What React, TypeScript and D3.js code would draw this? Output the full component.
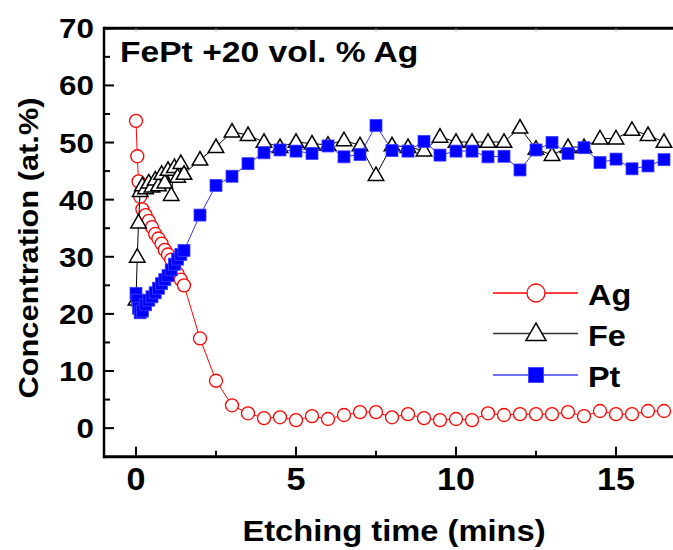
import React from "react";
import * as d3 from "d3";

const times = [0, 0.04, 0.08, 0.13, 0.2, 0.3, 0.4, 0.5, 0.6, 0.7, 0.8, 0.9, 1.0, 1.1, 1.2, 1.3, 1.4, 1.5,
  2, 2.5, 3, 3.5, 4, 4.5, 5, 5.5, 6, 6.5, 7, 7.5, 8, 8.5, 9, 9.5, 10, 10.5, 11, 11.5, 12, 12.5, 13, 13.5, 14, 14.5, 15, 15.5, 16, 16.5];

const agValues = [53.8, 47.6, 43.2, 40.5, 38.3, 37.3, 36.3, 35.2, 34.0, 33.2, 32.3, 31.2, 30.4, 29.5, 28.0, 27.0, 26.0, 25.0,
  15.7, 8.3, 4.0, 2.6, 1.75, 1.9, 1.4, 2.1, 1.6, 2.3, 2.8, 2.8, 1.9, 2.45, 1.75, 1.4, 1.6, 1.4, 2.6, 2.3, 2.45, 2.45, 2.45, 2.8, 2.1, 3.0, 2.45, 2.45, 3.0, 3.0];

const feValues = [22.5, 30.0, 36.0, 41.5, 42.5, 42.0, 43.0, 42.3, 43.5, 42.5, 44.5, 43.0, 45.2, 40.8, 45.7, 44.0, 46.4, 44.5,
  47.0, 49.2, 51.9, 51.3, 50.1, 49.2, 50.1, 49.8, 49.6, 50.4, 49.5, 44.3, 49.5, 49.2, 48.6, 51.0, 50.1, 50.1, 50.1, 50.1, 52.6, 48.9, 47.8, 49.2, 49.2, 50.7, 50.7, 52.2, 51.3, 50.1];

const ptValues = [23.6, 22.4, 21.0, 20.2, 20.5, 21.6, 22.4, 23.0, 23.7, 24.5, 25.3, 26.0, 26.7, 27.7, 28.7, 29.6, 30.4, 31.1,
  37.3, 42.5, 44.1, 46.3, 48.2, 48.7, 48.5, 48.1, 49.4, 47.5, 47.9, 53.0, 48.6, 48.5, 50.2, 47.8, 48.5, 48.5, 47.5, 47.6, 45.2, 48.7, 50.0, 48.1, 49.1, 46.5, 47.1, 45.4, 45.9, 47.0];

const xMajorTicks = [0, 5, 10, 15];
const xMinorTicks = [2.5, 7.5, 12.5];
const yMajorTicks = [0, 10, 20, 30, 40, 50, 60, 70];
const yMinorTicks = [5, 15, 25, 35, 45, 55, 65];

const W = 673;
const H = 550;
const FONT = "'Liberation Sans', Arial, Helvetica, sans-serif";

const x = d3.scaleLinear().domain([-1, 17]).range([104, 680]);
const y = d3.scaleLinear().domain([-5, 70]).range([456.7, 28.3]);

type Series = { name: string; values: number[]; color: string; lineColor: string; marker: "circle" | "triangle" | "square" };
const series: Series[] = [
  { name: "Ag", values: agValues, color: "#ff0000", lineColor: "#ff0000", marker: "circle" },
  { name: "Fe", values: feValues, color: "#000000", lineColor: "#000000", marker: "triangle" },
  { name: "Pt", values: ptValues, color: "#0000ff", lineColor: "#3030ff", marker: "square" },
];

function Marker({ kind, cx, cy, s, color }: { kind: string; cx: number; cy: number; s: number; color: string }) {
  if (kind === "circle") {
    return <circle cx={cx} cy={cy} r={s / 2} fill="#fff" stroke={color} strokeWidth={1.3} />;
  }
  if (kind === "triangle") {
    const h = s * 0.87;
    const pts = `${cx},${cy - h * 0.6} ${cx - s / 2},${cy + h * 0.4} ${cx + s / 2},${cy + h * 0.4}`;
    return <polygon points={pts} fill="#fff" stroke={color} strokeWidth={1.5} />;
  }
  return <rect x={cx - s / 2} y={cy - s / 2} width={s} height={s} fill={color} stroke="#4040ff" strokeWidth={0.8} />;
}

const markerSize: Record<string, number> = { circle: 13, triangle: 15.5, square: 12 };
const legendSize: Record<string, number> = { circle: 18, triangle: 20, square: 15 };

function SText({ x: tx, y: ty, size, anchor, children, sx = 1.1, rotate = 0 }: any) {
  return (
    <g transform={`translate(${tx},${ty}) rotate(${rotate}) scale(${sx},1)`}>
      <text x={0} y={0} fontFamily={FONT} fontWeight="bold" fontSize={size} textAnchor={anchor} fill="#000">
        {children}
      </text>
    </g>
  );
}

export default function App() {
  const line = d3
    .line<number>()
    .x((_, i) => x(times[i]))
    .y((d) => y(d));

  const legendY = [293, 333.5, 375];

  return (
    <svg width={W} height={H} style={{ position: "absolute", left: 0, top: 0, background: "#fff" }}>
      <rect x={0} y={0} width={W} height={H} fill="#fff" />

      {series.map((s) => (
        <g key={s.name}>
          <path d={line(s.values) || ""} fill="none" stroke={s.lineColor} strokeWidth={1} />
          {s.values.map((v, i) => (
            <Marker key={i} kind={s.marker} cx={x(times[i])} cy={y(v)} s={markerSize[s.marker]} color={s.color} />
          ))}
        </g>
      ))}

      <line x1={x(-1)} x2={W} y1={y(70)} y2={y(70)} stroke="#000" strokeWidth={3} />
      <line x1={x(-1) - 1} x2={W} y1={y(-5)} y2={y(-5)} stroke="#000" strokeWidth={3} />
      <line x1={x(-1)} x2={x(-1)} y1={y(70) - 1.5} y2={y(-5) + 1.5} stroke="#000" strokeWidth={2.5} />

      {xMajorTicks.map((t) => (
        <g key={"xm" + t}>
          <line x1={x(t)} x2={x(t)} y1={y(-5)} y2={y(-5) - 10} stroke="#000" strokeWidth={2} />
          <line x1={x(t)} x2={x(t)} y1={y(70)} y2={y(70) + 3} stroke="#999" strokeWidth={1} />
          <SText x={x(t)} y={490} size={31} anchor="middle" sx={1.1}>{t}</SText>
        </g>
      ))}
      {xMinorTicks.map((t) => (
        <g key={"xn" + t}>
          <line x1={x(t)} x2={x(t)} y1={y(-5)} y2={y(-5) - 6} stroke="#000" strokeWidth={2} />
          <line x1={x(t)} x2={x(t)} y1={y(70)} y2={y(70) + 3} stroke="#999" strokeWidth={1} />
        </g>
      ))}

      {yMajorTicks.map((t) => (
        <g key={"ym" + t}>
          <line x1={x(-1)} x2={x(-1) + 10} y1={y(t)} y2={y(t)} stroke="#000" strokeWidth={2} />
          <SText x={94} y={y(t) + 10} size={28} anchor="end" sx={1.12}>{t}</SText>
        </g>
      ))}
      {yMinorTicks.map((t) => (
        <line key={"yn" + t} x1={x(-1)} x2={x(-1) + 6} y1={y(t)} y2={y(t)} stroke="#000" strokeWidth={2} />
      ))}

      <SText x={394} y={541} size={30} anchor="middle" sx={1.09}>Etching time (mins)</SText>
      <SText x={38} y={248} size={28} anchor="middle" sx={1.1} rotate={-90}>Concentration (at.%)</SText>

      <SText x={120} y={62} size={30} anchor="start" sx={1.12}>FePt +20 vol. % Ag</SText>

      {series.map((s, i) => (
        <g key={"lg" + s.name}>
          <line x1={493} x2={578} y1={legendY[i]} y2={legendY[i]} stroke={s.marker === "square" ? "#6f6fff" : s.marker === "triangle" ? "#333" : s.lineColor} strokeWidth={s.marker === "square" ? 2 : 1.3} />
          <Marker kind={s.marker} cx={536} cy={legendY[i]} s={legendSize[s.marker]} color={s.color} />
          <SText x={588} y={legendY[i] + 12} size={30} anchor="start" sx={1.08}>{s.name}</SText>
        </g>
      ))}
    </svg>
  );
}
